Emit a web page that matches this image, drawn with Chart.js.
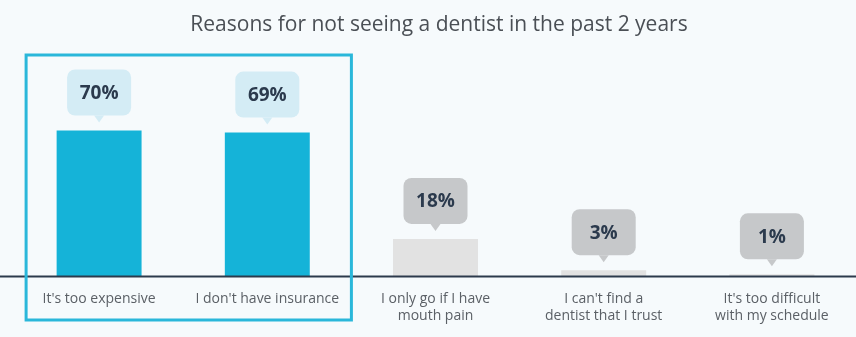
<!DOCTYPE html>
<html>
<head>
<meta charset="utf-8">
<script src="https://cdn.jsdelivr.net/npm/chart.js@4"></script>
<style>
  html, body { margin: 0; padding: 0; background: #f6fafc; }
  #wrap { width: 856px; height: 337px; position: relative; }
</style>
</head>
<body>
<div id="wrap"><canvas id="chart"></canvas></div>
<script>
const chartTitle = 'Reasons for not seeing a dentist in the past 2 years';
const categories = [
    ["It's too expensive"],
    ["I don't have insurance"],
    ['I only go if I have', 'mouth pain'],
    ["I can't find a", 'dentist that I trust'],
    ["It's too difficult", 'with my schedule']
];
const percentages = [70, 69, 18, 3, 1];
const highlighted = [true, true, false, false, false];

const barColors = highlighted.map(h => h ? '#15b3d8' : '#e2e2e2');
const calloutColors = highlighted.map(h => h ? '#d4ecf5' : '#c6c8ca');

// Title, baseline, highlight frame and the value callouts
const decorations = {
    id: 'decorations',
    afterDatasetsDraw(chart) {
        const ctx = chart.ctx;
        const area = chart.chartArea;
        const x = chart.scales.x;
        ctx.save();

        ctx.fillStyle = '#4a4f55';
        ctx.font = '21px "Open Sans", sans-serif';
        ctx.textAlign = 'center';
        ctx.textBaseline = 'middle';
        ctx.fillText(chartTitle, 439, 25);

        // axis line across the whole width
        ctx.strokeStyle = '#2c3a4c';
        ctx.lineWidth = 2;
        ctx.beginPath();
        ctx.moveTo(0, area.bottom);
        ctx.lineTo(chart.width, area.bottom);
        ctx.stroke();

        // frame around the highlighted categories
        const left = x.getPixelForValue(0) - 73;
        const right = (x.getPixelForValue(1) + x.getPixelForValue(2)) / 2;
        ctx.strokeStyle = '#2ab7da';
        ctx.lineWidth = 3;
        ctx.strokeRect(left, 55, right - left, 265);

        // callouts
        const meta = chart.getDatasetMeta(0);
        meta.data.forEach((bar, i) => {
            const w = 64, h = 46, r = 8;
            const bottom = bar.y - 15;
            const bx = bar.x - w / 2;
            const by = bottom - h;
            ctx.fillStyle = calloutColors[i];
            ctx.beginPath();
            ctx.roundRect(bx, by, w, h, r);
            ctx.fill();
            ctx.beginPath();
            ctx.moveTo(bar.x - 5, bottom);
            ctx.lineTo(bar.x, bottom + 7);
            ctx.lineTo(bar.x + 5, bottom);
            ctx.closePath();
            ctx.fill();
            ctx.fillStyle = '#2b3a4d';
            ctx.font = 'bold 19px "Open Sans", sans-serif';
            ctx.fillText(percentages[i] + '%', bar.x, by + h / 2 + 1);
        });
        ctx.restore();
    }
};

new Chart(document.getElementById('chart'), {
    type: 'bar',
    data: {
        labels: categories,
        datasets: [{
            data: percentages,
            backgroundColor: barColors,
            barPercentage: 0.505,
            categoryPercentage: 1
        }]
    },
    options: {
        responsive: true,
        maintainAspectRatio: false,
        animation: false,
        layout: { padding: { top: 68, left: 15, right: 0, bottom: 7 } },
        plugins: { legend: { display: false }, tooltip: { enabled: false } },
        scales: {
            x: {
                grid: { display: false },
                border: { display: false },
                ticks: {
                    color: '#5b6066',
                    font: { family: '"Open Sans", sans-serif', size: 14 },
                    padding: 6,
                    maxRotation: 0
                }
            },
            y: { display: false, min: 0, max: 100 }
        }
    },
    plugins: [decorations]
});
</script>
</body>
</html>
